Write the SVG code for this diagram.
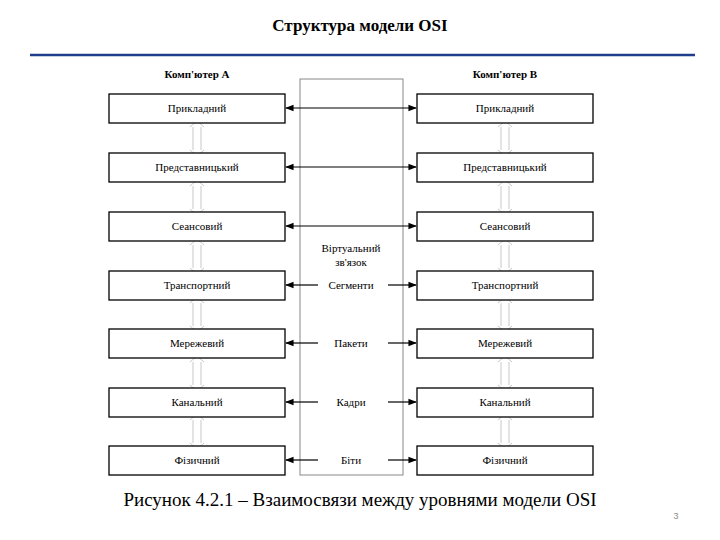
<svg xmlns="http://www.w3.org/2000/svg" width="720" height="540" viewBox="0 0 720 540" font-family="'Liberation Serif', 'DejaVu Serif', serif">
<defs>
<style>
.t{font-family:'Liberation Serif','DejaVu Serif',serif;font-size:11px;fill:#000;text-anchor:middle}
.box{fill:#fff;stroke:#000;stroke-width:1.3}
.c{stroke:#000;stroke-width:1.2;fill:none}
.v{fill:none;stroke:#c8c8c8;stroke-width:1}
</style>
<marker id="a" viewBox="0 0 10 10" refX="9" refY="5" markerWidth="7" markerHeight="7" orient="auto-start-reverse"><path d="M0,1L10,5L0,9z" fill="#000"/></marker>
<path id="va" d="M-7,3 L0,-3 L7,3 M-4,3 L-4,26 M4,3 L4,26 M-7,26 L0,32 L7,26" class="v"/>
</defs>
<rect width="720" height="540" fill="#fff"/>
<text x="360" y="31" font-size="17" font-weight="bold" text-anchor="middle">Структура модели OSI</text>
<line x1="30" y1="55" x2="695" y2="55" stroke="#1f3d8a" stroke-width="2.5"/>
<text class="t" x="197" y="78" font-weight="bold">Комп'ютер А</text>
<text class="t" x="505" y="78" font-weight="bold">Комп'ютер В</text>
<g id="virtual"><rect x="300" y="79" width="103" height="396" fill="none" stroke="#888" stroke-width="1"/>
<text class="t" x="351" y="252">Віртуальний</text><text class="t" x="351" y="266">зв'язок</text></g>
<g id="vert">
<use href="#va" x="197" y="124"/><use href="#va" x="197" y="183"/><use href="#va" x="197" y="242"/><use href="#va" x="197" y="300"/><use href="#va" x="197" y="359"/><use href="#va" x="197" y="417"/>
<use href="#va" x="505" y="124"/><use href="#va" x="505" y="183"/><use href="#va" x="505" y="242"/><use href="#va" x="505" y="300"/><use href="#va" x="505" y="359"/><use href="#va" x="505" y="417"/>
</g>
<g id="A1"><rect class="box" x="109" y="94" width="176" height="29"/><text class="t" x="197" y="112">Прикладний</text></g>
<g id="A2"><rect class="box" x="109" y="153" width="176" height="29"/><text class="t" x="197" y="171">Представницький</text></g>
<g id="A3"><rect class="box" x="109" y="212" width="176" height="29"/><text class="t" x="197" y="230">Сеансовий</text></g>
<g id="A4"><rect class="box" x="109" y="271" width="176" height="29"/><text class="t" x="197" y="289">Транспортний</text></g>
<g id="A5"><rect class="box" x="109" y="329" width="176" height="29"/><text class="t" x="197" y="347">Мережевий</text></g>
<g id="A6"><rect class="box" x="109" y="388" width="176" height="29"/><text class="t" x="197" y="406">Канальний</text></g>
<g id="A7"><rect class="box" x="109" y="446" width="176" height="29"/><text class="t" x="197" y="464">Фізичний</text></g>
<g id="B1"><rect class="box" x="417" y="94" width="176" height="29"/><text class="t" x="505" y="112">Прикладний</text></g>
<g id="B2"><rect class="box" x="417" y="153" width="176" height="29"/><text class="t" x="505" y="171">Представницький</text></g>
<g id="B3"><rect class="box" x="417" y="212" width="176" height="29"/><text class="t" x="505" y="230">Сеансовий</text></g>
<g id="B4"><rect class="box" x="417" y="271" width="176" height="29"/><text class="t" x="505" y="289">Транспортний</text></g>
<g id="B5"><rect class="box" x="417" y="329" width="176" height="29"/><text class="t" x="505" y="347">Мережевий</text></g>
<g id="B6"><rect class="box" x="417" y="388" width="176" height="29"/><text class="t" x="505" y="406">Канальний</text></g>
<g id="B7"><rect class="box" x="417" y="446" width="176" height="29"/><text class="t" x="505" y="464">Фізичний</text></g>
<g id="connectors">
<line class="c" x1="286" y1="108" x2="416" y2="108" marker-start="url(#a)" marker-end="url(#a)"/>
<line class="c" x1="286" y1="167" x2="416" y2="167" marker-start="url(#a)" marker-end="url(#a)"/>
<line class="c" x1="286" y1="226" x2="416" y2="226" marker-start="url(#a)" marker-end="url(#a)"/>
<line class="c" x1="318" y1="285" x2="286" y2="285" marker-end="url(#a)"/><line class="c" x1="388" y1="285" x2="416" y2="285" marker-end="url(#a)"/>
<line class="c" x1="318" y1="343" x2="286" y2="343" marker-end="url(#a)"/><line class="c" x1="388" y1="343" x2="416" y2="343" marker-end="url(#a)"/>
<line class="c" x1="318" y1="402" x2="286" y2="402" marker-end="url(#a)"/><line class="c" x1="388" y1="402" x2="416" y2="402" marker-end="url(#a)"/>
<line class="c" x1="318" y1="460" x2="286" y2="460" marker-end="url(#a)"/><line class="c" x1="388" y1="460" x2="416" y2="460" marker-end="url(#a)"/>
</g>
<text class="t" x="351" y="289">Сегменти</text>
<text class="t" x="351" y="347">Пакети</text>
<text class="t" x="351" y="406">Кадри</text>
<text class="t" x="351" y="464">Біти</text>
<text x="360" y="506" font-size="19" text-anchor="middle">Рисунок 4.2.1 – Взаимосвязи между уровнями модели OSI</text>
<text x="676" y="519" font-family="Liberation Sans, sans-serif" font-size="9" fill="#8a8a8a" text-anchor="middle">3</text>
</svg>
